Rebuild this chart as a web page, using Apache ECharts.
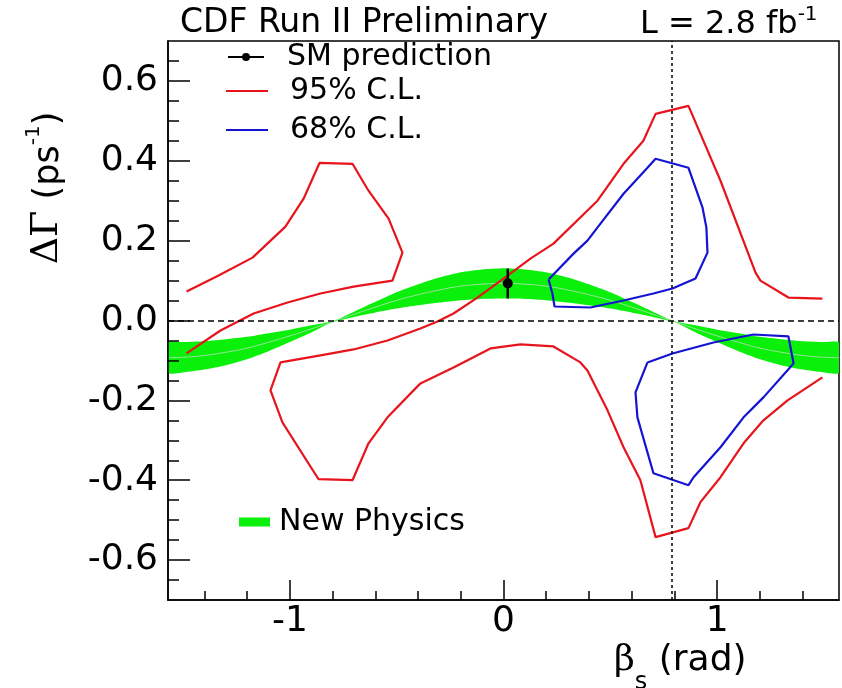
<!DOCTYPE html>
<html>
<head>
<meta charset="utf-8">
<script src="https://cdn.jsdelivr.net/npm/echarts@6/dist/echarts.min.js"></script>
<style>
  html, body { margin: 0; padding: 0; background: #fff; }
  #chart { width: 842px; height: 688px; }
</style>
</head>
<body>
<div id="chart"></div>
<script>
// axis range: beta_s in [-pi/2, pi/2], DeltaGamma in [-0.7, 0.7]
var xMin = -Math.PI / 2, xMax = Math.PI / 2;
var yMin = -0.7, yMax = 0.7;
var betaRef = Math.PI / 4;   // vertical dashed line

var xMajorTicks = [-1, 0, 1];
var xMinorTicks = [-1.4, -1.2, -0.8, -0.6, -0.4, -0.2, 0.2, 0.4, 0.6, 0.8, 1.2, 1.4];
var yMajorTicks = [-0.6, -0.4, -0.2, 0, 0.2, 0.4, 0.6];
var yMinorTicks = [-0.65, -0.55, -0.5, -0.45, -0.35, -0.3, -0.25, -0.15, -0.1, -0.05,
                   0.05, 0.1, 0.15, 0.25, 0.3, 0.35, 0.45, 0.5, 0.55, 0.65];

// New Physics band
var bandBeta  = [-1.571, -1.5, -1.4, -1.3, -1.2, -1.1, -1.0, -0.9, -0.8, -0.7, -0.6, -0.5, -0.4, -0.3, -0.2, -0.1, 0,
                 0.1, 0.2, 0.3, 0.4, 0.5, 0.6, 0.7, 0.8, 0.9, 1.0, 1.1, 1.2, 1.3, 1.4, 1.5, 1.571];
var bandUpper = [-0.055, -0.054, -0.052, -0.047, -0.041, -0.032, -0.023, -0.012, -0.002, 0.022, 0.047, 0.071, 0.091, 0.108, 0.121, 0.128, 0.131,
                 0.128, 0.121, 0.108, 0.091, 0.071, 0.047, 0.022, -0.002, -0.012, -0.023, -0.032, -0.041, -0.047, -0.052, -0.054, -0.055];
var bandLower = [-0.131, -0.130, -0.123, -0.112, -0.097, -0.077, -0.054, -0.030, -0.004, 0.009, 0.020, 0.030, 0.038, 0.045, 0.051, 0.054, 0.055,
                 0.054, 0.051, 0.045, 0.038, 0.030, 0.020, 0.009, -0.004, -0.030, -0.054, -0.077, -0.097, -0.112, -0.123, -0.130, -0.131];

// SM prediction
var smBeta = 0.02, smDG = 0.093, smLow = 0.055, smHigh = 0.13;

// 95% C.L. contours
var cl95a = [[-1.484, 0.0725], [-1.334, 0.1125], [-1.175, 0.1575], [-1.021, 0.235], [-0.936, 0.305], [-0.861, 0.395],
             [-0.707, 0.3925], [-0.632, 0.325], [-0.538, 0.255], [-0.473, 0.17], [-0.520, 0.10], [-0.702, 0.085],
             [-0.857, 0.0675], [-1.011, 0.045], [-1.170, 0.0175], [-1.325, -0.025], [-1.484, -0.0825]];
var cl95b = [[1.493, -0.1425], [1.330, -0.20], [1.217, -0.25], [1.124, -0.3075], [1.016, -0.3925], [0.922, -0.455],
             [0.866, -0.52], [0.712, -0.5425], [0.641, -0.40], [0.562, -0.3175], [0.487, -0.225], [0.393, -0.125],
             [0.360, -0.105], [0.234, -0.065], [0.080, -0.06], [-0.061, -0.07], [-0.234, -0.1175], [-0.389, -0.1575],
             [-0.543, -0.2425], [-0.632, -0.3075], [-0.707, -0.40], [-0.866, -0.3975], [-1.035, -0.255], [-1.091, -0.175],
             [-1.044, -0.105], [-0.857, -0.0875], [-0.702, -0.0725], [-0.543, -0.05], [-0.389, -0.02], [-0.309, -0.0025],
             [-0.234, 0.0175], [-0.122, 0.0575], [0.019, 0.1125], [0.126, 0.155], [0.234, 0.1925], [0.440, 0.30],
             [0.562, 0.3925], [0.655, 0.45], [0.712, 0.5175], [0.866, 0.5375], [1.016, 0.35], [1.180, 0.12],
             [1.203, 0.10], [1.334, 0.0575], [1.493, 0.055]];

// 68% C.L. contours
var cl68a = [[0.211, 0.1025], [0.229, 0.0675], [0.239, 0.035], [0.407, 0.0325], [0.562, 0.05], [0.702, 0.0675],
             [0.791, 0.08], [0.899, 0.105], [0.955, 0.17], [0.950, 0.2325], [0.932, 0.2825], [0.866, 0.3825],
             [0.712, 0.405], [0.674, 0.3825], [0.562, 0.3175], [0.454, 0.2425], [0.393, 0.20], [0.328, 0.1675],
             [0.211, 0.1025]];
var cl68b = [[0.674, -0.105], [0.618, -0.18], [0.627, -0.2425], [0.702, -0.3825], [0.866, -0.4125], [0.890, -0.3925],
             [1.016, -0.3175], [1.124, -0.2425], [1.217, -0.1925], [1.358, -0.1075], [1.334, -0.04], [1.170, -0.035],
             [0.983, -0.055], [0.791, -0.0825], [0.674, -0.105]];

var RED = '#e8141c', BLUE = '#1414d2', GREEN = '#0af00a';
var FONT = 'DejaVu Sans';

var bandMid = [];
for (var i = 0; i < bandBeta.length; i++) {
    bandMid.push([bandBeta[i], (bandUpper[i] + bandLower[i]) / 2]);
}

var myChart = echarts.init(document.getElementById('chart'));

function axisX(ticks, len, labels) {
    return {
        type: 'value', min: xMin, max: xMax, position: 'bottom', z: 5,
        axisLine: { show: labels, onZero: false, lineStyle: { color: '#000', width: 1.5 } },
        axisTick: { show: true, inside: true, length: len, customValues: ticks,
                    lineStyle: { color: '#000', width: 1.5 } },
        axisLabel: { show: labels, customValues: ticks, fontSize: 36, fontFamily: FONT, color: '#000', margin: 4,
                     formatter: function (v) { return String(Math.round(v)); } },
        splitLine: { show: false }
    };
}
function axisY(ticks, len, labels) {
    return {
        type: 'value', min: yMin, max: yMax, position: 'left', z: 5,
        axisLine: { show: labels, onZero: false, lineStyle: { color: '#000', width: 1.5 } },
        axisTick: { show: true, inside: true, length: len, customValues: ticks,
                    lineStyle: { color: '#000', width: 1.5 } },
        axisLabel: { show: labels, customValues: ticks, fontSize: 36, fontFamily: FONT, color: '#000', margin: 10,
                     formatter: function (v) { return v.toFixed(1); } },
        splitLine: { show: false }
    };
}

function legendAt(name, left, top, w, h, pad, icon) {
    var l = {
        data: [name], left: left, top: top, padding: 0, itemWidth: w, itemHeight: h,
        selectedMode: false,
        textStyle: { fontSize: 30, fontFamily: FONT, color: '#000', padding: [0, 0, 0, pad] }
    };
    if (icon) l.icon = icon;
    return l;
}

var option = {
    animation: false,
    backgroundColor: '#fff',
    grid: { left: 168, right: 3, top: 41, bottom: 88, show: true, borderColor: '#000', borderWidth: 1.5 },
    xAxis: [axisX(xMajorTicks, 20, true), axisX(xMinorTicks, 9, false)],
    yAxis: [axisY(yMajorTicks, 22, true), axisY(yMinorTicks, 11, false)],
    legend: [
        legendAt('SM prediction', 227, 42, 36, 10, 18),
        legendAt('95% C.L.', 226, 76, 42, 2, 17, 'rect'),
        legendAt('68% C.L.', 226, 115, 42, 2, 17, 'rect'),
        legendAt('New Physics', 239, 507, 31, 9, 4, 'rect')
    ],
    graphic: [
        { type: 'text', x: 180, y: 23, style: { text: 'CDF Run II Preliminary', font: '33px "DejaVu Sans"', fill: '#000',
          align: 'left', verticalAlign: 'middle' } },
        { type: 'text', x: 640, y: 23, style: { text: '{a|L = 2.8 fb}{s|-1}', fill: '#000', align: 'left', verticalAlign: 'middle',
          rich: { a: { fontSize: 32, fontFamily: FONT, lineHeight: 36, verticalAlign: 'bottom' },
                  s: { fontSize: 20, fontFamily: FONT, verticalAlign: 'top' } } } },
        { type: 'text', x: 45, y: 188, rotation: Math.PI / 2,
          style: { text: '{g|ΔΓ}{a| (ps}{s|-1}{a|)}', fill: '#000', align: 'center', verticalAlign: 'middle',
          rich: { g: { fontSize: 38, fontFamily: 'DejaVu Serif', lineHeight: 42, verticalAlign: 'bottom' },
                  a: { fontSize: 35, fontFamily: FONT, verticalAlign: 'bottom' },
                  s: { fontSize: 20, fontFamily: FONT, verticalAlign: 'top' } } } },
        { type: 'text', x: 614, y: 669, style: { text: '{b|β}{s|s}{a| (rad)}', fill: '#000', align: 'left', verticalAlign: 'middle',
          rich: { b: { fontSize: 36, fontFamily: 'DejaVu Serif', lineHeight: 52, verticalAlign: 'top' },
                  s: { fontSize: 24, fontFamily: FONT, verticalAlign: 'bottom' },
                  a: { fontSize: 36, fontFamily: FONT, verticalAlign: 'top' } } } }
    ],
    series: [
        {
            name: 'New Physics', type: 'custom', z: 1, clip: true,
            itemStyle: { color: GREEN },
            data: [[0, 0]],
            renderItem: function (params, api) {
                var pts = [];
                for (var i = 0; i < bandBeta.length; i++) pts.push(api.coord([bandBeta[i], bandUpper[i]]));
                for (var j = bandBeta.length - 1; j >= 0; j--) pts.push(api.coord([bandBeta[j], bandLower[j]]));
                return { type: 'polygon', shape: { points: pts, smooth: 0.2 }, style: { fill: GREEN } };
            }
        },
        {
            name: 'mid', type: 'line', z: 2, data: bandMid, symbol: 'none', smooth: true,
            lineStyle: { color: 'rgba(170,225,170,0.9)', width: 1 },
            markLine: {
                silent: true, symbol: ['none', 'none'], label: { show: false },
                data: [
                    { yAxis: 0, lineStyle: { color: '#000', width: 1.5, type: [6, 4] } },
                    { xAxis: betaRef, lineStyle: { color: '#000', width: 1.5, type: [3, 3] } }
                ]
            }
        },
        { name: '95% C.L.', type: 'line', z: 3, data: cl95a, symbol: 'none', lineStyle: { color: RED, width: 2.2 }, itemStyle: { color: RED } },
        { name: '95% C.L.', type: 'line', z: 3, data: cl95b, symbol: 'none', lineStyle: { color: RED, width: 2.2 }, itemStyle: { color: RED } },
        { name: '68% C.L.', type: 'line', z: 3, data: cl68a, symbol: 'none', lineStyle: { color: BLUE, width: 2.2 }, itemStyle: { color: BLUE } },
        { name: '68% C.L.', type: 'line', z: 3, data: cl68b, symbol: 'none', lineStyle: { color: BLUE, width: 2.2 }, itemStyle: { color: BLUE } },
        { name: 'err', type: 'line', z: 4, data: [[smBeta, smLow], [smBeta, smHigh]], symbol: 'none',
          lineStyle: { color: '#000', width: 2.5 } },
        { name: 'SM prediction', type: 'line', z: 5, data: [[smBeta, smDG]], symbol: 'circle', symbolSize: 10,
          showSymbol: true, itemStyle: { color: '#000' }, lineStyle: { color: '#000', width: 2.5 } }
    ]
};
myChart.setOption(option);
</script>
</body>
</html>
